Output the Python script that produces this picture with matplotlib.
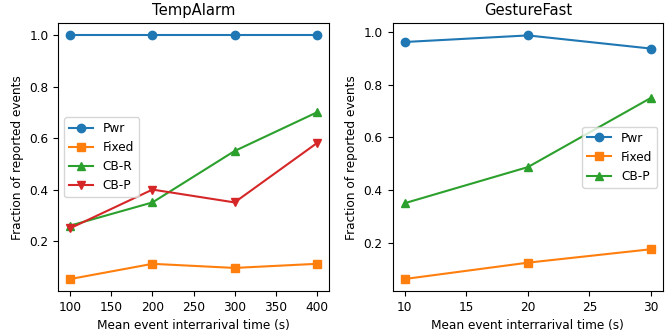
import matplotlib
matplotlib.use('Agg')
import matplotlib.pyplot as plt

plt.rcParams['font.size'] = 8.7
plt.rcParams['axes.titlesize'] = 10.6

# TempAlarm data
ta_x = [100, 200, 300, 400]
ta_pwr = [1.0, 1.0, 1.0, 1.0]
ta_fixed = [0.052, 0.111, 0.095, 0.111]
ta_cbr = [0.26, 0.35, 0.55, 0.70]
ta_cbp = [0.25, 0.40, 0.35, 0.58]

# GestureFast data
gf_x = [10, 20, 30]
gf_pwr = [0.962, 0.987, 0.937]
gf_fixed = [0.062, 0.124, 0.175]
gf_cbp = [0.35, 0.487, 0.75]

fig, (ax1, ax2) = plt.subplots(1, 2, figsize=(6.68, 3.32), dpi=100)
fig.subplots_adjust(left=0.087, right=0.993, bottom=0.123, top=0.93, wspace=0.235)

ax1.plot(ta_x, ta_pwr, marker='o', color='C0', label='Pwr')
ax1.plot(ta_x, ta_fixed, marker='s', color='C1', label='Fixed')
ax1.plot(ta_x, ta_cbr, marker='^', color='C2', label='CB-R')
ax1.plot(ta_x, ta_cbp, marker='v', color='C3', label='CB-P')
ax1.set_title('TempAlarm')
ax1.set_xlabel('Mean event interrarival time (s)')
ax1.set_ylabel('Fraction of reported events')
ax1.set_xticks([100, 150, 200, 250, 300, 350, 400])
ax1.set_yticks([0.2, 0.4, 0.6, 0.8, 1.0])
ax1.legend(loc='center left')

ax2.plot(gf_x, gf_pwr, marker='o', color='C0', label='Pwr')
ax2.plot(gf_x, gf_fixed, marker='s', color='C1', label='Fixed')
ax2.plot(gf_x, gf_cbp, marker='^', color='C2', label='CB-P')
ax2.set_title('GestureFast')
ax2.set_xlabel('Mean event interrarival time (s)')
ax2.set_ylabel('Fraction of reported events')
ax2.set_xticks([10, 15, 20, 25, 30])
ax2.set_yticks([0.2, 0.4, 0.6, 0.8, 1.0])
ax2.legend(loc='center right')

fig.savefig('out.png', dpi=100)
